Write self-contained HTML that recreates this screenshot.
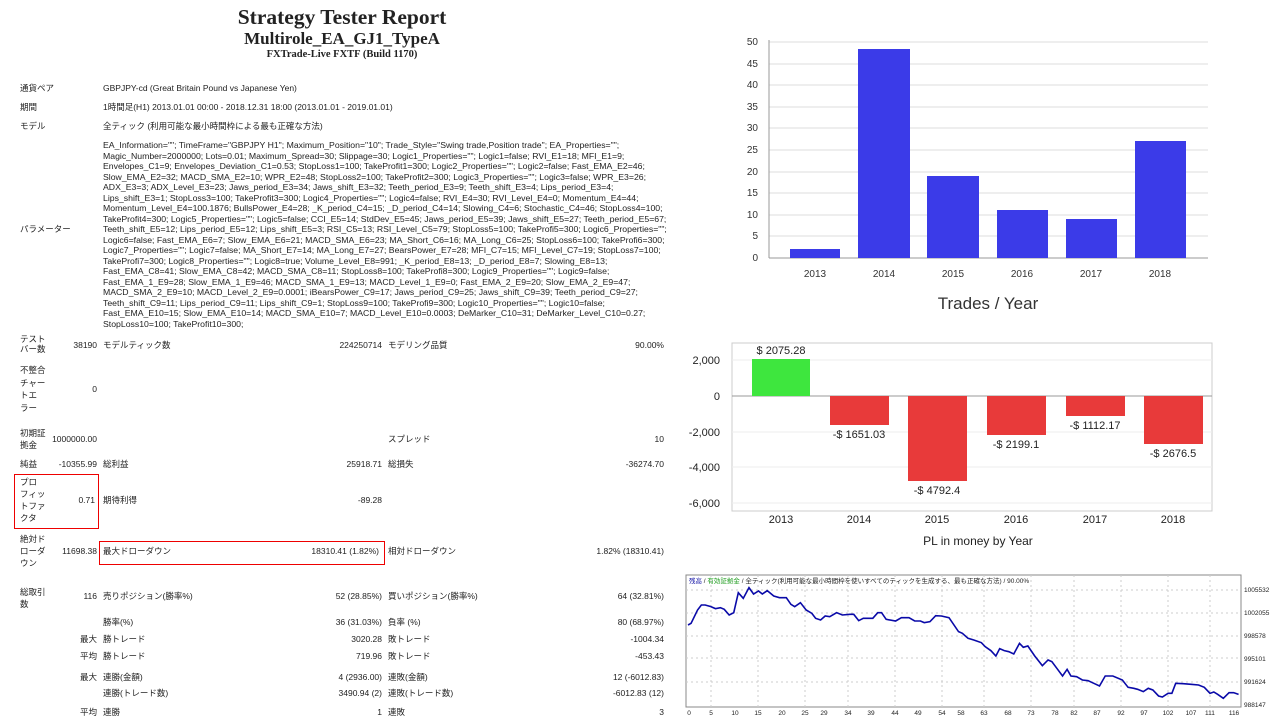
<!DOCTYPE html>
<html><head><meta charset="utf-8"><style>
body{margin:0;width:1280px;height:720px;background:#fff;position:relative;overflow:hidden;font-family:"Liberation Sans","Noto Sans CJK JP",sans-serif;color:#222}
.t{position:absolute;font-size:8.5px;line-height:10px;white-space:nowrap}
.r{text-align:right}
.serif{font-family:"Liberation Serif","Noto Serif CJK SC",serif;font-weight:bold;position:absolute;text-align:center;width:684px;left:0}
.p{position:absolute;left:103px;top:140px;font-size:8.7px;line-height:10.5px;white-space:nowrap}
.box{position:absolute;border:1px solid #e00}
</style></head><body>
<div class="serif" style="top:5px;font-size:21.5px">Strategy Tester Report</div>
<div class="serif" style="top:29px;font-size:17px">Multirole_EA_GJ1_TypeA</div>
<div class="serif" style="top:49px;font-size:10.5px">FXTrade-Live FXTF (Build 1170)</div>

<div class="t" style="left:20px;top:83px">通貨ペア</div><div class="t" style="left:103px;top:83px">GBPJPY-cd (Great Britain Pound vs Japanese Yen)</div>
<div class="t" style="left:20px;top:102px">期間</div><div class="t" style="left:103px;top:102px">1時間足(H1) 2013.01.01 00:00 - 2018.12.31 18:00 (2013.01.01 - 2019.01.01)</div>
<div class="t" style="left:20px;top:121px">モデル</div><div class="t" style="left:103px;top:121px">全ティック (利用可能な最小時間枠による最も正確な方法)</div>
<div class="t" style="left:20px;top:224px">パラメーター</div>
<div class="p">EA_Information=""; TimeFrame="GBPJPY H1"; Maximum_Position="10"; Trade_Style="Swing trade,Position trade"; EA_Properties="";<br>
Magic_Number=2000000; Lots=0.01; Maximum_Spread=30; Slippage=30; Logic1_Properties=""; Logic1=false; RVI_E1=18; MFI_E1=9;<br>
Envelopes_C1=9; Envelopes_Deviation_C1=0.53; StopLoss1=100; TakeProfit1=300; Logic2_Properties=""; Logic2=false; Fast_EMA_E2=46;<br>
Slow_EMA_E2=32; MACD_SMA_E2=10; WPR_E2=48; StopLoss2=100; TakeProfit2=300; Logic3_Properties=""; Logic3=false; WPR_E3=26;<br>
ADX_E3=3; ADX_Level_E3=23; Jaws_period_E3=34; Jaws_shift_E3=32; Teeth_period_E3=9; Teeth_shift_E3=4; Lips_period_E3=4;<br>
Lips_shift_E3=1; StopLoss3=100; TakeProfit3=300; Logic4_Properties=""; Logic4=false; RVI_E4=30; RVI_Level_E4=0; Momentum_E4=44;<br>
Momentum_Level_E4=100.1876; BullsPower_E4=28; _K_period_C4=15; _D_period_C4=14; Slowing_C4=6; Stochastic_C4=46; StopLoss4=100;<br>
TakeProfit4=300; Logic5_Properties=""; Logic5=false; CCI_E5=14; StdDev_E5=45; Jaws_period_E5=39; Jaws_shift_E5=27; Teeth_period_E5=67;<br>
Teeth_shift_E5=12; Lips_period_E5=12; Lips_shift_E5=3; RSI_C5=13; RSI_Level_C5=79; StopLoss5=100; TakeProfi5=300; Logic6_Properties="";<br>
Logic6=false; Fast_EMA_E6=7; Slow_EMA_E6=21; MACD_SMA_E6=23; MA_Short_C6=16; MA_Long_C6=25; StopLoss6=100; TakeProfi6=300;<br>
Logic7_Properties=""; Logic7=false; MA_Short_E7=14; MA_Long_E7=27; BearsPower_E7=28; MFI_C7=15; MFI_Level_C7=19; StopLoss7=100;<br>
TakeProfi7=300; Logic8_Properties=""; Logic8=true; Volume_Level_E8=991; _K_period_E8=13; _D_period_E8=7; Slowing_E8=13;<br>
Fast_EMA_C8=41; Slow_EMA_C8=42; MACD_SMA_C8=11; StopLoss8=100; TakeProfi8=300; Logic9_Properties=""; Logic9=false;<br>
Fast_EMA_1_E9=28; Slow_EMA_1_E9=46; MACD_SMA_1_E9=13; MACD_Level_1_E9=0; Fast_EMA_2_E9=20; Slow_EMA_2_E9=47;<br>
MACD_SMA_2_E9=10; MACD_Level_2_E9=0.0001; iBearsPower_C9=17; Jaws_period_C9=25; Jaws_shift_C9=39; Teeth_period_C9=27;<br>
Teeth_shift_C9=11; Lips_period_C9=11; Lips_shift_C9=1; StopLoss9=100; TakeProfi9=300; Logic10_Properties=""; Logic10=false;<br>
Fast_EMA_E10=15; Slow_EMA_E10=14; MACD_SMA_E10=7; MACD_Level_E10=0.0003; DeMarker_C10=31; DeMarker_Level_C10=0.27;<br>
StopLoss10=100; TakeProfit10=300;</div>

<div class="t" style="left:20px;top:334px">テスト<br>バー数</div><div class="t r" style="left:40px;width:57px;top:340px">38190</div>
<div class="t" style="left:103px;top:340px">モデルティック数</div><div class="t r" style="left:280px;width:102px;top:340px">224250714</div>
<div class="t" style="left:388px;top:340px">モデリング品質</div><div class="t r" style="left:560px;width:104px;top:340px">90.00%</div>

<div class="t" style="left:20px;top:364px;line-height:12.5px">不整合<br>チャー<br>トエ<br>ラー</div><div class="t r" style="left:40px;width:57px;top:384px">0</div>

<div class="t" style="left:20px;top:427px;line-height:12px">初期証<br>拠金</div><div class="t r" style="left:30px;width:67px;top:434px">1000000.00</div>
<div class="t" style="left:388px;top:434px">スプレッド</div><div class="t r" style="left:560px;width:104px;top:434px">10</div>

<div class="t" style="left:20px;top:459px">純益</div><div class="t r" style="left:30px;width:67px;top:459px">-10355.99</div>
<div class="t" style="left:103px;top:459px">総利益</div><div class="t r" style="left:280px;width:102px;top:459px">25918.71</div>
<div class="t" style="left:388px;top:459px">総損失</div><div class="t r" style="left:560px;width:104px;top:459px">-36274.70</div>

<div class="t" style="left:20px;top:476px;line-height:12px">プロ<br>フィッ<br>トファ<br>クタ</div><div class="t r" style="left:40px;width:55px;top:495px">0.71</div>
<div class="t" style="left:103px;top:495px">期待利得</div><div class="t r" style="left:280px;width:102px;top:495px">-89.28</div>
<div class="box" style="left:14px;top:474px;width:83px;height:53px"></div>

<div class="t" style="left:20px;top:533px;line-height:12px">絶対ド<br>ローダ<br>ウン</div><div class="t r" style="left:30px;width:67px;top:546px">11698.38</div>
<div class="t" style="left:103px;top:546px">最大ドローダウン</div><div class="t r" style="left:250px;width:129px;top:546px">18310.41 (1.82%)</div>
<div class="t" style="left:388px;top:546px">相対ドローダウン</div><div class="t r" style="left:540px;width:124px;top:546px">1.82% (18310.41)</div>
<div class="box" style="left:99px;top:541px;width:284px;height:22px"></div>

<div class="t" style="left:20px;top:586px;line-height:12px">総取引<br>数</div><div class="t r" style="left:40px;width:57px;top:591px">116</div>
<div class="t" style="left:103px;top:591px">売りポジション(勝率%)</div><div class="t r" style="left:250px;width:132px;top:591px">52 (28.85%)</div>
<div class="t" style="left:388px;top:591px">買いポジション(勝率%)</div><div class="t r" style="left:560px;width:104px;top:591px">64 (32.81%)</div>

<div class="t" style="left:103px;top:617px">勝率(%)</div><div class="t r" style="left:250px;width:132px;top:617px">36 (31.03%)</div>
<div class="t" style="left:388px;top:617px">負率 (%)</div><div class="t r" style="left:560px;width:104px;top:617px">80 (68.97%)</div>

<div class="t" style="left:80px;top:634px">最大</div><div class="t" style="left:103px;top:634px">勝トレード</div><div class="t r" style="left:250px;width:132px;top:634px">3020.28</div>
<div class="t" style="left:388px;top:634px">敗トレード</div><div class="t r" style="left:560px;width:104px;top:634px">-1004.34</div>
<div class="t" style="left:80px;top:651px">平均</div><div class="t" style="left:103px;top:651px">勝トレード</div><div class="t r" style="left:250px;width:132px;top:651px">719.96</div>
<div class="t" style="left:388px;top:651px">敗トレード</div><div class="t r" style="left:560px;width:104px;top:651px">-453.43</div>
<div class="t" style="left:80px;top:672px">最大</div><div class="t" style="left:103px;top:672px">連勝(金額)</div><div class="t r" style="left:250px;width:132px;top:672px">4 (2936.00)</div>
<div class="t" style="left:388px;top:672px">連敗(金額)</div><div class="t r" style="left:560px;width:104px;top:672px">12 (-6012.83)</div>
<div class="t" style="left:103px;top:688px">連勝(トレード数)</div><div class="t r" style="left:250px;width:132px;top:688px">3490.94 (2)</div>
<div class="t" style="left:388px;top:688px">連敗(トレード数)</div><div class="t r" style="left:560px;width:104px;top:688px">-6012.83 (12)</div>
<div class="t" style="left:80px;top:707px">平均</div><div class="t" style="left:103px;top:707px">連勝</div><div class="t r" style="left:250px;width:132px;top:707px">1</div>
<div class="t" style="left:388px;top:707px">連敗</div><div class="t r" style="left:560px;width:104px;top:707px">3</div>

<svg style="position:absolute;left:0;top:0" width="1280" height="720" font-family="Liberation Sans, sans-serif">
<!-- Chart 1 -->
<g stroke="#ddd" stroke-width="1">
<line x1="769" y1="42" x2="1208" y2="42"/><line x1="769" y1="64" x2="1208" y2="64"/><line x1="769" y1="85" x2="1208" y2="85"/><line x1="769" y1="107" x2="1208" y2="107"/><line x1="769" y1="128" x2="1208" y2="128"/><line x1="769" y1="150" x2="1208" y2="150"/><line x1="769" y1="172" x2="1208" y2="172"/><line x1="769" y1="193" x2="1208" y2="193"/><line x1="769" y1="215" x2="1208" y2="215"/><line x1="769" y1="236" x2="1208" y2="236"/>
</g>
<line x1="769" y1="40" x2="769" y2="258" stroke="#999"/><line x1="769" y1="258" x2="1208" y2="258" stroke="#999"/>
<g font-size="10" fill="#333" text-anchor="end">
<text x="758" y="45">50</text><text x="758" y="67">45</text><text x="758" y="88">40</text><text x="758" y="110">35</text><text x="758" y="131">30</text><text x="758" y="153">25</text><text x="758" y="175">20</text><text x="758" y="196">15</text><text x="758" y="218">10</text><text x="758" y="239">5</text><text x="758" y="261">0</text>
</g>
<g fill="#3b3be8">
<rect x="790" y="249" width="50" height="9"/><rect x="858" y="49" width="52" height="209"/><rect x="927" y="176" width="52" height="82"/><rect x="997" y="210" width="51" height="48"/><rect x="1066" y="219" width="51" height="39"/><rect x="1135" y="141" width="51" height="117"/>
</g>
<g font-size="10" fill="#333" text-anchor="middle">
<text x="815" y="277">2013</text><text x="884" y="277">2014</text><text x="953" y="277">2015</text><text x="1022" y="277">2016</text><text x="1091" y="277">2017</text><text x="1160" y="277">2018</text>
</g>
<text x="988" y="309" font-size="17" fill="#333" text-anchor="middle">Trades / Year</text>

<!-- Chart 2 -->
<rect x="732" y="343" width="480" height="168" fill="none" stroke="#ccc"/>
<g stroke="#eee"><line x1="732" y1="360" x2="1212" y2="360"/><line x1="732" y1="432" x2="1212" y2="432"/><line x1="732" y1="467" x2="1212" y2="467"/><line x1="732" y1="503" x2="1212" y2="503"/></g>
<line x1="732" y1="396" x2="1212" y2="396" stroke="#999"/>
<g font-size="11" fill="#222" text-anchor="end">
<text x="720" y="364">2,000</text><text x="720" y="400">0</text><text x="720" y="436">-2,000</text><text x="720" y="471">-4,000</text><text x="720" y="507">-6,000</text>
</g>
<rect x="752" y="359" width="58" height="37" fill="#3ee63e"/>
<g fill="#e83a3a">
<rect x="830" y="396" width="59" height="29"/><rect x="908" y="396" width="59" height="85"/><rect x="987" y="396" width="59" height="39"/><rect x="1066" y="396" width="59" height="20"/><rect x="1144" y="396" width="59" height="48"/>
</g>
<g font-size="11" fill="#222" text-anchor="middle">
<text x="781" y="354">$ 2075.28</text><text x="859" y="438">-$ 1651.03</text><text x="937" y="494">-$ 4792.4</text><text x="1016" y="448">-$ 2199.1</text><text x="1095" y="429">-$ 1112.17</text><text x="1173" y="457">-$ 2676.5</text>
<text x="781" y="523">2013</text><text x="859" y="523">2014</text><text x="937" y="523">2015</text><text x="1016" y="523">2016</text><text x="1095" y="523">2017</text><text x="1173" y="523">2018</text>
</g>
<text x="978" y="545" font-size="12" fill="#222" text-anchor="middle">PL in money by Year</text>

<!-- Chart 3 -->
<rect x="686" y="575" width="555" height="132" fill="none" stroke="#888"/>
<g stroke="#ccc" stroke-dasharray="2,3">
<line x1="686" y1="590" x2="1241" y2="590"/><line x1="686" y1="613" x2="1241" y2="613"/><line x1="686" y1="636" x2="1241" y2="636"/><line x1="686" y1="658" x2="1241" y2="658"/><line x1="686" y1="682" x2="1241" y2="682"/>
<line x1="711" y1="575" x2="711" y2="707"/><line x1="758" y1="575" x2="758" y2="707"/><line x1="805" y1="575" x2="805" y2="707"/><line x1="848" y1="575" x2="848" y2="707"/><line x1="895" y1="575" x2="895" y2="707"/><line x1="942" y1="575" x2="942" y2="707"/><line x1="984" y1="575" x2="984" y2="707"/><line x1="1031" y1="575" x2="1031" y2="707"/><line x1="1074" y1="575" x2="1074" y2="707"/><line x1="1121" y1="575" x2="1121" y2="707"/><line x1="1168" y1="575" x2="1168" y2="707"/><line x1="1210" y1="575" x2="1210" y2="707"/>
</g>
<polyline fill="none" stroke="#0a0aa8" stroke-width="1.6" vector-effect="non-scaling-stroke" transform="translate(680.4,570) scale(0.381,0.3333)" points="20,165 28,160 45,120 55,105 65,105 80,110 92,116 105,113 115,118 128,135 140,128 152,68 165,85 180,53 192,72 205,63 215,72 228,62 245,78 260,83 278,83 290,103 300,110 315,98 330,120 345,130 355,145 368,150 380,138 392,140 410,128 425,135 445,133 455,133 468,152 480,145 505,145 518,128 528,128 540,148 565,153 580,143 600,143 615,153 630,153 640,158 655,155 670,137 685,138 705,143 730,185 740,190 755,205 770,210 790,218 800,230 815,242 828,258 838,236 850,242 862,245 875,252 890,220 900,232 912,228 930,258 950,287 965,270 975,275 990,298 1003,318 1015,298 1025,318 1040,320 1055,330 1070,332 1085,340 1100,348 1115,318 1135,318 1160,330 1175,352 1190,355 1200,358 1215,365 1228,355 1240,360 1255,378 1265,381 1280,370 1290,370 1300,340 1320,341 1340,343 1360,345 1375,352 1390,370 1400,366 1410,373 1425,385 1440,368 1452,368 1465,373"/>
<g font-size="6.5" fill="#222">
<text x="1244" y="592">1005532</text><text x="1244" y="615">1002055</text><text x="1244" y="638">998578</text><text x="1244" y="661">995101</text><text x="1244" y="684">991624</text><text x="1244" y="707">988147</text>
</g>
<g font-size="6.5" fill="#222" text-anchor="middle">
<text x="689" y="715">0</text><text x="711" y="715">5</text><text x="735" y="715">10</text><text x="758" y="715">15</text><text x="782" y="715">20</text><text x="805" y="715">25</text><text x="824" y="715">29</text><text x="848" y="715">34</text><text x="871" y="715">39</text><text x="895" y="715">44</text><text x="918" y="715">49</text><text x="942" y="715">54</text><text x="961" y="715">58</text><text x="984" y="715">63</text><text x="1008" y="715">68</text><text x="1031" y="715">73</text><text x="1055" y="715">78</text><text x="1074" y="715">82</text><text x="1097" y="715">87</text><text x="1121" y="715">92</text><text x="1144" y="715">97</text><text x="1168" y="715">102</text><text x="1191" y="715">107</text><text x="1210" y="715">111</text><text x="1234" y="715">116</text>
</g>
<text x="689" y="583" font-size="6.5" font-family="Liberation Sans, Noto Sans CJK JP, sans-serif"><tspan fill="#1a1aa8">残高</tspan><tspan fill="#222"> / </tspan><tspan fill="#1a9a1a">有効証拠金</tspan><tspan fill="#222"> / 全ティック(利用可能な最小時間枠を使いすべてのティックを生成する、最も正確な方法) / 90.00%</tspan></text>
</svg>
</body></html>
